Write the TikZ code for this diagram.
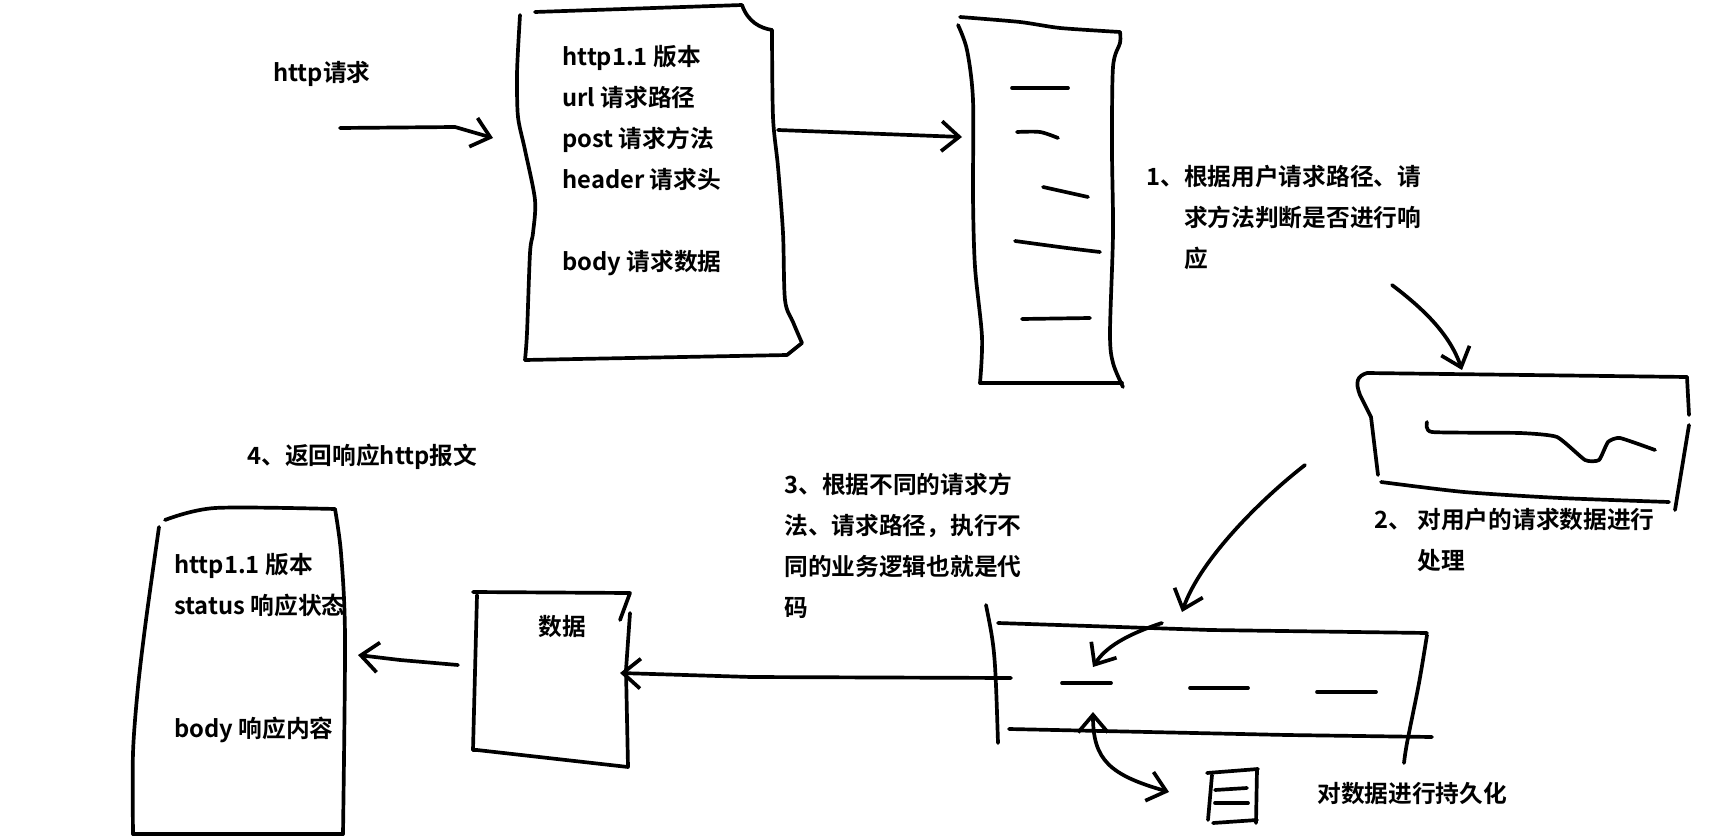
\documentclass[tikz,border=0pt]{standalone}
\usepackage{fontspec}
\setmainfont{Noto Sans CJK SC}[BoldFont={* Bold}]
\usepackage{tikz}
\usetikzlibrary{arrows.meta,positioning}

\begin{document}
\begin{tikzpicture}[x=0.02cm,y=-0.02cm,
    pen/.style={line width=2.1pt,line cap=round,line join=round},
    harrow/.style={pen,-{Straight Barb[length=10pt,width=17pt]}},
    lbl/.style={inner sep=0pt,font=\fontsize{13.5}{23.3}\selectfont\bfseries,align=left}]
  \useasboundingbox (0,0) rectangle (1728,838);

  % request message
  \draw[pen] (535,12) -- (742,5) .. controls (748,22) and (760,28) .. (772,30);
  \draw[pen] plot[smooth,tension=.5] coordinates {(772,30) (773,117) (778,167) (783,233) (785,300) (793,322) (802,343)}
    -- (787,355) -- (525,360);
  \draw[pen] plot[smooth,tension=.5] coordinates {(525,360) (527,333) (530,253) (533,233) (535,200) (525,150) (518,117) (517,77) (518,50) (520,15)};
  \node[lbl,anchor=west] (httpreq) at (273,74) {http请求};
  \node[lbl,anchor=north west] (reqtext) at (562,45) {http1.1 版本\\url 请求路径\\post 请求方法\\header 请求头\\[23.3pt]body 请求数据};

  % server
  \draw[pen] plot[smooth,tension=.4] coordinates {(960,17) (1020,22) (1060,28) (1120,32)};
  \draw[pen] plot[smooth,tension=.5] coordinates {(1120,32) (1120,43) (1113,67) (1112,150) (1113,233) (1110,333) (1113,363) (1123,387)};
  \draw[pen] (1122,383) -- (980,383);
  \draw[pen] plot[smooth,tension=.5] coordinates {(980,383) (982,337) (975,267) (973,197) (973,100) (967,50) (958,25)};
  \draw[pen] (1012,88) -- (1068,88);
  \draw[pen] plot[smooth] coordinates {(1017,132) (1040,132) (1058,138)};
  \draw[pen] (1043,187) -- (1088,197);
  \draw[pen] plot[smooth] coordinates {(1015,241) (1067,248) (1100,252)};
  \draw[pen] (1022,319) -- (1090,318);

  \node[lbl,anchor=north west] (step1) at (1146,165) {1、根据用户请求路径、请\\\phantom{1、}求方法判断是否进行响\\\phantom{1、}应};

  % processing
  \draw[pen] (1687,377) -- (1367,373) .. controls (1357,376) and (1355,382) .. (1360,395)
    -- (1371,417) -- (1378,475);
  \draw[pen] (1687,377) -- (1689,415);
  \draw[pen] (1689,425) -- (1675,510);
  \draw[pen] plot[smooth,tension=.4] coordinates {(1381,482) (1464,492) (1560,498) (1669,502)};
  \draw[pen] plot[tension=.3,smooth] coordinates {(1427,422) (1432,432) (1520,433) (1557,437) (1585,460) (1599,460) (1608,442) (1620,438) (1655,450)};
  \node[lbl,anchor=north west] (step2) at (1374,508) {2、 对用户的请求数据进行\\\phantom{2、 }处理};

  % storage
  \draw[pen] (986,605) .. controls (995,650) .. (998,743);
  \draw[pen] (998,623) -- (1210,630) -- (1427,633);
  \draw[pen] plot[smooth,tension=.5] coordinates {(1427,635) (1419,683) (1407,743) (1404,763)};
  \draw[pen] (1009,729) -- (1287,735) -- (1432,737);
  \draw[pen] (1062,683) -- (1111,683);
  \draw[pen] (1190,688) -- (1248,688);
  \draw[pen] (1317,692) -- (1376,692);
  \node[lbl,anchor=north west] (step3) at (784,473) {3、根据不同的请求方\\法、请求路径，执行不\\同的业务逻辑也就是代\\码};

  % database
  \draw[pen] (1207,773) -- (1258,769);
  \draw[pen] (1212,775) -- (1208,820);
  \draw[pen] (1257,769) -- (1256,823);
  \draw[pen] (1213,823) -- (1257,820);
  \draw[pen] (1215,790) -- (1247,788);
  \draw[pen] (1215,803) -- (1248,803);
  \node[lbl,anchor=west] (persist) at (1317,793) {对数据进行持久化};

  % data
  \draw[pen] (473,592) -- (630,593) -- (620,620);
  \draw[pen] (630,613) -- (626,670) -- (628,767) -- (477,750) -- (473,750);
  \draw[pen] (477,595) -- (473,750);
  \node[lbl] (data) at (562,627) {数据};

  % response message
  \draw[pen] plot[smooth,tension=.5] coordinates {(165,520) (215,508) (335,509)};
  \draw[pen] plot[smooth,tension=.5] coordinates {(335,509) (341,553) (345,637) (343,834)};
  \draw[pen] (133,834) -- (343,834);
  \draw[pen] plot[smooth,tension=.5] coordinates {(159,527) (146,620) (138,687) (133,753) (133,834)};
  \node[lbl,anchor=west] (step4) at (247,457) {4、返回响应http报文};
  \node[lbl,anchor=north west] (resptext) at (174,553) {http1.1 版本\\status 响应状态\\[46.6pt]body 响应内容};

  % connectors
  \coordinate (req in) at (340,128);
  \coordinate (req box) at (493,138);
  \coordinate (req out) at (778,130);
  \coordinate (srv in) at (962,137);
  \coordinate (s1 tail) at (1392,285);
  \coordinate (proc top) at (1462,370);
  \coordinate (proc out) at (1305,465);
  \coordinate (band in) at (1182,612);
  \coordinate (band a) at (1162,623);
  \coordinate (band b) at (1093,667);
  \coordinate (band w) at (1011,678);
  \coordinate (data e) at (620,673);
  \coordinate (data w) at (458,665);
  \coordinate (resp e) at (358,655);
  \coordinate (band s) at (1093,712);
  \coordinate (db w) at (1169,792);

  \draw[harrow] (req in) -- (455,127) -- (req box);
  \draw[harrow] (req out) -- (srv in);
  \draw[harrow] (s1 tail) .. controls (1425,310) and (1450,335) .. (proc top);
  \draw[harrow] (proc out) .. controls (1260,500) and (1200,560) .. (band in);
  \draw[harrow] (band a) .. controls (1125,635) and (1105,648) .. (band b);
  \draw[harrow] (band w) -- (751,677) -- (data e);
  \draw[harrow] (data w) -- (400,660) -- (resp e);
  \draw[pen,{Straight Barb[length=10pt,width=17pt]}-{Straight Barb[length=10pt,width=17pt]}]
    (band s) .. controls (1093,760) and (1110,775) .. (db w);
\end{tikzpicture}
\end{document}
